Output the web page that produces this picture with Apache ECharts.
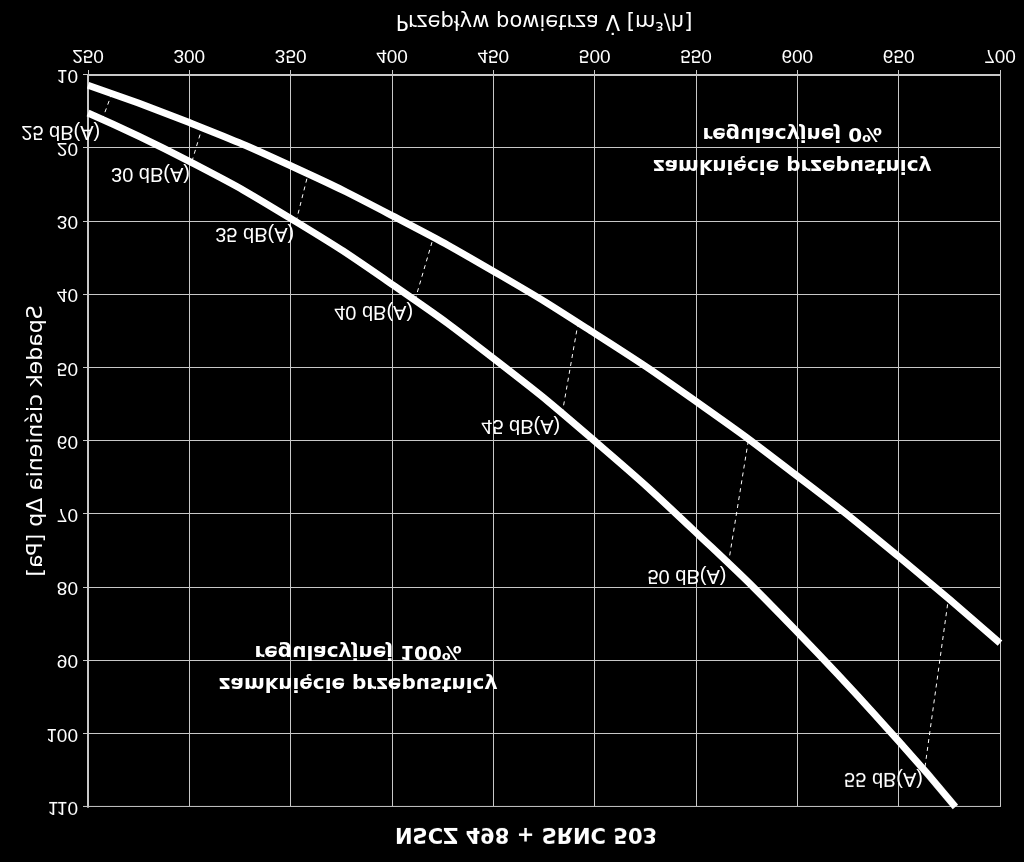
<!DOCTYPE html>
<html>
<head>
<meta charset="utf-8">
<script src="https://cdn.jsdelivr.net/npm/echarts/dist/echarts.min.js"></script>
<style>
html,body{margin:0;padding:0;background:#000;}
#chart{width:1024px;height:862px;transform:scaleY(-1);}
</style>
</head>
<body>
<div id="chart"></div>
<script>
// ---- data ----
const titleText = 'NSCZ 498 + SRNC 503';
const xAxisName = 'Przepływ powietrza V̇ [m³/h]';
const yAxisName = 'Spadek ciśnienia Δp [Pa]';

const openX   = [250, 300, 350, 400, 450, 500, 550, 600, 650, 700];
const openY   = [11.4, 16.5, 22.4, 29.2, 36.8, 45.3, 54.6, 64.8, 75.8, 87.6];
const closedX = [250, 300, 350, 400, 450, 500, 550, 600, 650, 678];
const closedY = [15.2, 21.8, 29.6, 38.6, 48.7, 60.0, 72.5, 86.1, 101.0, 110];

const noiseNames = ['25 dB(A)', '30 dB(A)', '35 dB(A)', '40 dB(A)', '45 dB(A)', '50 dB(A)', '55 dB(A)'];
const noiseLowX  = [257, 301.3, 352.7, 411.4, 484, 566, 663];
const noiseLowY  = [16.1, 21.8, 30.0, 40.7, 56.2, 76.7, 104.5];
const noiseHighX = [261.8, 306.3, 358.6, 420.3, 491.8, 575.9, 674.6];
const noiseHighY = [12.5, 17.2, 23.5, 32.3, 43.9, 59.8, 81.4];

const noteOpenText   = 'zamknięcie przepustnicy\nregulacyjnej 0%';
const noteOpenPos    = [597.5, 20.2];
const noteClosedText = 'zamknięcie przepustnicy\nregulacyjnej 100%';
const noteClosedPos  = [383.3, 90.9];

// ---- chart ----
const FONT = '"Liberation Sans", Arial, sans-serif';
const WIDE = '"DejaVu Sans", sans-serif';
const GRIDC = '#c8c8c8';
const series = [];

series.push({
  type: 'line', smooth: true, symbol: 'none',
  data: openX.map((x, i) => [x, openY[i]]),
  lineStyle: { color: '#fff', width: 7 }, z: 5
});
series.push({
  type: 'line', smooth: true, symbol: 'none',
  data: closedX.map((x, i) => [x, closedY[i]]),
  lineStyle: { color: '#fff', width: 7 }, z: 5
});
noiseNames.forEach((n, i) => {
  series.push({
    type: 'line', symbol: 'none',
    data: [[noiseLowX[i], noiseLowY[i]], [noiseHighX[i], noiseHighY[i]]],
    lineStyle: { color: '#fff', width: 1, type: [4, 4] }, z: 4
  });
});
series.push({
  type: 'scatter', symbolSize: 0, itemStyle: { color: '#fff' },
  data: noiseNames.map((n, i) => ({ value: [noiseLowX[i], noiseLowY[i]], name: n })),
  label: {
    show: true, position: 'left', distance: 2, offset: [0, -12],
    formatter: p => p.name, color: '#ffffff', fontSize: 20, fontFamily: FONT,
    textBorderWidth: 0, opacity: 1
  }, z: 6
});
series.push({
  type: 'scatter', symbolSize: 0, itemStyle: { color: '#fff' },
  data: [
    { value: noteOpenPos, name: noteOpenText },
    { value: noteClosedPos, name: noteClosedText }
  ],
  label: {
    show: true, position: 'inside', formatter: p => p.name,
    color: '#ffffff', fontSize: 20, fontWeight: 'bold', fontFamily: WIDE,
    lineHeight: 32, align: 'center', textBorderWidth: 0, opacity: 1
  }, z: 6
});

const chart = echarts.init(document.getElementById('chart'), null, { renderer: 'canvas' });
chart.setOption({
  animation: false,
  backgroundColor: '#000',
  title: {
    text: titleText, left: 390, top: 13,
    textStyle: { color: '#fff', fontSize: 21, fontWeight: 'bold', fontFamily: WIDE }
  },
  grid: { left: 88, right: 24, top: 55, bottom: 75, containLabel: false },
  xAxis: {
    type: 'value', min: 250, max: 700, interval: 50,
    name: xAxisName, nameLocation: 'middle', nameGap: 44, nameMoveOverlap: false,
    nameTextStyle: { color: '#fff', fontSize: 21, fontFamily: WIDE },
    axisLine: { show: true, lineStyle: { color: GRIDC, width: 2 } },
    axisTick: { show: true, length: 5, lineStyle: { color: GRIDC } },
    axisLabel: { color: '#fff', fontSize: 19, margin: 10, fontFamily: FONT },
    splitLine: { show: true, lineStyle: { color: GRIDC, width: 1 } }
  },
  yAxis: {
    type: 'value', min: 10, max: 110, interval: 10,
    name: yAxisName, nameLocation: 'middle', nameGap: 41, nameMoveOverlap: false,
    nameTextStyle: { color: '#fff', fontSize: 22, fontFamily: WIDE },
    axisLine: { show: true, lineStyle: { color: GRIDC, width: 2 } },
    axisTick: { show: true, length: 5, lineStyle: { color: GRIDC } },
    axisLabel: { color: '#fff', fontSize: 19, margin: 10, fontFamily: FONT },
    splitLine: { show: true, lineStyle: { color: GRIDC, width: 1 } }
  },
  series: series
});
</script>
</body>
</html>
